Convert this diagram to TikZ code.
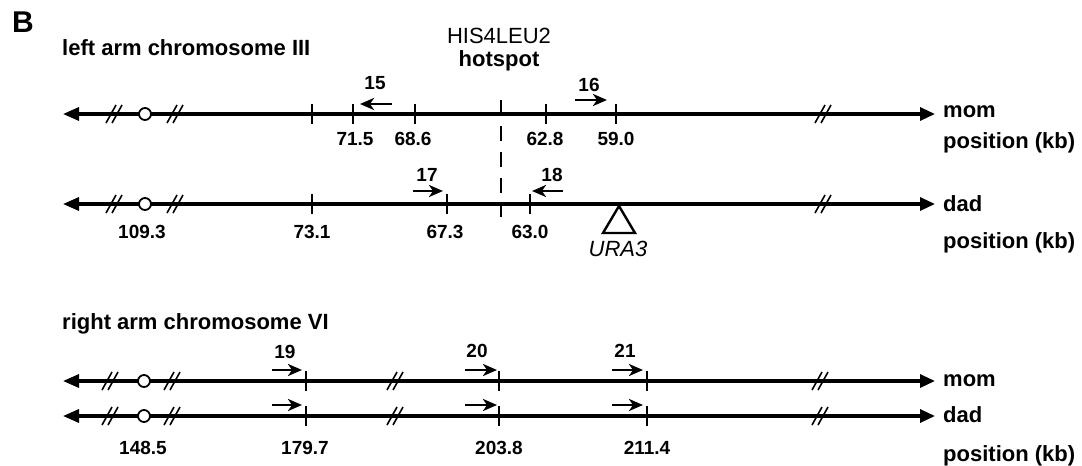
\documentclass[tikz,border=0pt]{standalone}
\usepackage{fontspec}
\setmainfont{Liberation Sans}
\usetikzlibrary{arrows.meta}

\begin{document}
\begin{tikzpicture}[x=1pt, y=-1pt, font=\bfseries\fontsize{22}{24}\selectfont,
  chrom/.style={line width=3.2pt, {Triangle[length=16pt,width=13pt]}-{Triangle[length=15pt,width=13pt]}},
  tickline/.style={line width=2.4pt},
  primer/.style={line width=2.6pt, -{Stealth[length=14pt,width=12pt,inset=4pt]}},
  num/.style={inner sep=0pt, font=\bfseries\fontsize{19}{21}\selectfont},
  lbl/.style={inner sep=0pt, anchor=west},
  cen/.style={circle, draw, fill=white, line width=1.8pt, inner sep=0pt, minimum size=12pt},
  axbreak/.pic={\draw[line width=1.6pt] (-8,9) -- (2,-9) (-2,9) -- (8,-9);}]
  \useasboundingbox (0,0) rectangle (1082,466);

  \node[inner sep=0pt, font=\bfseries\fontsize{30}{32}\selectfont] (panel) at (23,22) {B};

  % left arm chromosome III
  \node[lbl] (titleIII) at (62,48) {left arm chromosome III};
  \node[inner sep=0pt, font=\mdseries\fontsize{22}{24}\selectfont] (hot) at (499,36) {HIS4LEU2};
  \node[inner sep=0pt] (hotb) at (499,61) {hotspot};
  \draw[line width=2.2pt, dash pattern=on 15pt off 11pt] (501,100) -- (501,217);

  % mom
  \draw[chrom] (63,114) -- (935,114);
  \foreach \x in {114,175,823} \pic at (\x,114) {axbreak};
  \node[cen] (cenIIIm) at (145,114) {};
  \foreach \x in {312,353,415,546,616} \draw[tickline] (\x,104) -- (\x,124);
  \node[num] (m715) at (355,139) {71.5};
  \node[num] (m686) at (413,139) {68.6};
  \node[num] (m628) at (545,139) {62.8};
  \node[num] (m590) at (616,139) {59.0};
  \draw[primer] (392,104) -- (360,104);
  \node[num] (p15) at (375,83) {15};
  \draw[primer] (575,100) -- (607,100);
  \node[num] (p16) at (589,85) {16};
  \node[lbl] (momIII) at (943,112) {mom};
  \node[lbl] (posIIIm) at (943,143) {position (kb)};

  % dad
  \draw[chrom] (63,204) -- (935,204);
  \foreach \x in {114,175,823} \pic at (\x,204) {axbreak};
  \node[cen] (cenIIId) at (145,204) {};
  \foreach \x in {312,447,530} \draw[tickline] (\x,194) -- (\x,214);
  \node[num] (d1093) at (142,232) {109.3};
  \node[num] (d731) at (312,232) {73.1};
  \node[num] (d673) at (445,232) {67.3};
  \node[num] (d630) at (530,232) {63.0};
  \draw[primer] (413,191) -- (443,191);
  \node[num] (p17) at (427,175) {17};
  \draw[primer] (563,191) -- (532,191);
  \node[num] (p18) at (552,175) {18};
  \draw[line width=2.4pt, line join=miter] (619,206) -- (603,233) -- (635,233) -- cycle;
  \node[inner sep=0pt, font=\mdseries\itshape\fontsize{22}{24}\selectfont] (ura) at (618,249) {URA3};
  \node[lbl] (dadIII) at (943,204) {dad};
  \node[lbl] (posIIId) at (943,243) {position (kb)};

  % right arm chromosome VI
  \node[lbl] (titleVI) at (62,324) {right arm chromosome VI};
  \foreach \y/\t in {381/mom, 416/dad} {
    \draw[chrom] (63,\y) -- (935,\y);
    \foreach \x in {110,172,395,820} \pic at (\x,\y) {axbreak};
    \node[cen] (cenVI\t) at (144,\y) {};
    \foreach \x in {306,499,647} \draw[tickline] (\x,\y-10) -- (\x,\y+10);
    \draw[primer] (272,\y-11) -- (302,\y-11);
    \draw[primer] (465,\y-11) -- (497,\y-11);
    \draw[primer] (612,\y-11) -- (643,\y-11);
  }
  \node[num] (p19) at (285,352) {19};
  \node[num] (p20) at (477,351) {20};
  \node[num] (p21) at (625,351) {21};
  \node[num] (v1485) at (143,448) {148.5};
  \node[num] (v1797) at (305,448) {179.7};
  \node[num] (v2038) at (499,448) {203.8};
  \node[num] (v2114) at (647,448) {211.4};
  \node[lbl] (momVI) at (943,381) {mom};
  \node[lbl] (dadVI) at (943,415) {dad};
  \node[lbl] (posVI) at (943,456) {position (kb)};
\end{tikzpicture}
\end{document}
